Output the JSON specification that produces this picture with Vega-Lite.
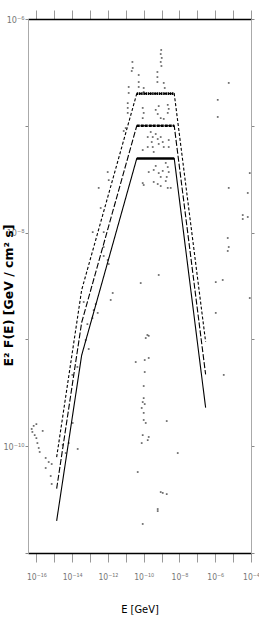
{
  "$schema": "https://vega.github.io/schema/vega-lite/v6.json",
  "width": 223,
  "height": 534,
  "autosize": {"type": "none"},
  "padding": {"left": 28, "top": 19, "right": 8, "bottom": 69},
  "config": {
    "view": {"stroke": null},
    "axis": {"labelFont": "Liberation Sans Narrow, DejaVu Sans Condensed, Roboto, sans-serif", "grid": false}
  },
  "datasets": {
    "points": [
      {"E": 9.55e-10, "F": 5.13e-7}, {"E": 8.95e-10, "F": 4.70e-7}, {"E": 1.02e-9, "F": 4.32e-7}, {"E": 8.95e-10, "F": 3.96e-7},
      {"E": 9.80e-10, "F": 3.63e-7}, {"E": 2.34e-11, "F": 3.96e-7}, {"E": 2.43e-11, "F": 3.48e-7}, {"E": 2.14e-11, "F": 3.26e-7},
      {"E": 5.85e-10, "F": 3.19e-7}, {"E": 5.85e-10, "F": 2.86e-7}, {"E": 5.85e-10, "F": 2.57e-7}, {"E": 5.26e-11, "F": 2.99e-7},
      {"E": 5.26e-11, "F": 2.57e-7}, {"E": 5.26e-11, "F": 2.31e-7}, {"E": 1.32e-9, "F": 2.52e-7}, {"E": 1.50e-9, "F": 2.26e-7},
      {"E": 1.45e-11, "F": 2.31e-7}, {"E": 1.45e-11, "F": 2.03e-7}, {"E": 1.0e-10, "F": 2.26e-7}, {"E": 1.0e-10, "F": 2.07e-7},
      {"E": 1.28e-11, "F": 1.63e-7}, {"E": 1.28e-11, "F": 1.47e-7}, {"E": 1.28e-11, "F": 1.32e-7}, {"E": 8.81e-11, "F": 1.47e-7},
      {"E": 1.0e-10, "F": 1.32e-7}, {"E": 8.81e-11, "F": 1.18e-7}, {"E": 4.70e-10, "F": 1.41e-7}, {"E": 6.92e-10, "F": 1.53e-7},
      {"E": 6.08e-10, "F": 1.29e-7}, {"E": 2.21e-9, "F": 1.57e-7}, {"E": 2.51e-9, "F": 1.44e-7}, {"E": 2.21e-9, "F": 1.32e-7},
      {"E": 8.95e-10, "F": 1.18e-7}, {"E": 1.32e-9, "F": 1.16e-7}, {"E": 9.86e-12, "F": 9.53e-8}, {"E": 7.62e-12, "F": 8.94e-8},
      {"E": 2.47e-10, "F": 8.75e-8}, {"E": 3.20e-10, "F": 7.85e-8}, {"E": 2.81e-10, "F": 7.05e-8}, {"E": 3.20e-10, "F": 6.33e-8},
      {"E": 4.70e-10, "F": 8.38e-8}, {"E": 6.08e-10, "F": 7.52e-8}, {"E": 6.92e-10, "F": 6.76e-8}, {"E": 8.95e-10, "F": 7.85e-8},
      {"E": 1.16e-9, "F": 7.05e-8}, {"E": 1.32e-9, "F": 6.33e-8}, {"E": 2.51e-9, "F": 7.36e-8}, {"E": 2.51e-9, "F": 6.33e-8},
      {"E": 1.68e-10, "F": 7.85e-8}, {"E": 1.68e-10, "F": 6.33e-8}, {"E": 3.63e-10, "F": 5.69e-8}, {"E": 8.81e-11, "F": 5.93e-8},
      {"E": 3.63e-10, "F": 3.86e-8}, {"E": 4.70e-10, "F": 4.21e-8}, {"E": 6.92e-10, "F": 3.61e-8}, {"E": 8.95e-10, "F": 3.32e-8},
      {"E": 1.16e-9, "F": 3.78e-8}, {"E": 1.71e-9, "F": 4.49e-8}, {"E": 2.21e-9, "F": 4.11e-8}, {"E": 2.51e-9, "F": 3.69e-8},
      {"E": 1.94e-9, "F": 3.32e-8}, {"E": 1.71e-9, "F": 3.04e-8}, {"E": 8.81e-11, "F": 2.91e-8}, {"E": 3.63e-10, "F": 2.98e-8},
      {"E": 6.08e-10, "F": 2.85e-8}, {"E": 8.95e-10, "F": 2.73e-8}, {"E": 2.21e-9, "F": 2.62e-8}, {"E": 1.91e-10, "F": 3.69e-8},
      {"E": 3.24e-9, "F": 2.62e-8}, {"E": 1.0e-10, "F": 2.79e-8}, {"E": 9.72e-13, "F": 3.69e-8}, {"E": 1.11e-12, "F": 3.10e-8},
      {"E": 3.05e-13, "F": 2.62e-8}, {"E": 3.94e-13, "F": 1.70e-8}, {"E": 1.41e-13, "F": 1.01e-8}, {"E": 5.81e-13, "F": 1.01e-8},
      {"E": 5.81e-13, "F": 7.33e-9}, {"E": 5.81e-13, "F": 6.04e-9}, {"E": 9.72e-13, "F": 5.54e-9}, {"E": 1.11e-12, "F": 5.08e-9},
      {"E": 1.85e-12, "F": 2.72e-9}, {"E": 1.43e-12, "F": 2.34e-9}, {"E": 4.42e-14, "F": 2.24e-9}, {"E": 2.07e-13, "F": 2.14e-9},
      {"E": 1.60e-13, "F": 1.88e-9}, {"E": 2.68e-13, "F": 1.77e-9}, {"E": 1.36e-13, "F": 1.58e-9}, {"E": 7.11e-14, "F": 1.39e-9},
      {"E": 5.71e-14, "F": 9.87e-10}, {"E": 8.41e-14, "F": 8.13e-10}, {"E": 1.03e-14, "F": 4.65e-10}, {"E": 1.96e-14, "F": 5.52e-10},
      {"E": 1.07e-14, "F": 1.65e-10}, {"E": 2.04e-14, "F": 9.42e-11}, {"E": 6.40e-15, "F": 1.07e-10}, {"E": 2.96e-15, "F": 1.03e-10},
      {"E": 4.36e-15, "F": 8.63e-11}, {"E": 5.46e-17, "F": 1.45e-10}, {"E": 7.06e-17, "F": 1.55e-10}, {"E": 1.0e-16, "F": 1.61e-10},
      {"E": 5.97e-17, "F": 1.36e-10}, {"E": 8.04e-17, "F": 1.27e-10}, {"E": 1.0e-16, "F": 1.19e-10}, {"E": 1.14e-16, "F": 1.07e-10},
      {"E": 1.35e-16, "F": 9.62e-11}, {"E": 1.53e-16, "F": 8.83e-11}, {"E": 2.25e-16, "F": 1.39e-10}, {"E": 3.31e-16, "F": 7.76e-11},
      {"E": 4.88e-16, "F": 7.11e-11}, {"E": 7.18e-16, "F": 6.81e-11}, {"E": 3.31e-16, "F": 6.25e-11}, {"E": 6.31e-16, "F": 5.26e-11},
      {"E": 7.18e-16, "F": 4.43e-11}, {"E": 1.61e-10, "F": 1.10e-9}, {"E": 1.30e-10, "F": 1.03e-9}, {"E": 1.91e-10, "F": 1.08e-9},
      {"E": 3.58e-11, "F": 6.14e-10}, {"E": 1.14e-10, "F": 6.41e-10}, {"E": 1.91e-10, "F": 6.70e-10}, {"E": 1.14e-10, "F": 4.95e-10},
      {"E": 1.0e-10, "F": 3.66e-10}, {"E": 1.0e-10, "F": 2.82e-10}, {"E": 8.81e-11, "F": 2.59e-10}, {"E": 1.14e-10, "F": 2.48e-10},
      {"E": 7.74e-11, "F": 2.28e-10}, {"E": 1.0e-10, "F": 2.05e-10}, {"E": 1.0e-10, "F": 1.76e-10}, {"E": 1.30e-10, "F": 1.65e-10},
      {"E": 8.81e-11, "F": 1.27e-10}, {"E": 7.74e-11, "F": 1.07e-10}, {"E": 1.68e-10, "F": 1.14e-10}, {"E": 1.91e-10, "F": 1.22e-10},
      {"E": 1.94e-9, "F": 1.72e-10}, {"E": 8.00e-9, "F": 8.63e-11}, {"E": 4.63e-11, "F": 5.73e-11}, {"E": 8.95e-10, "F": 3.72e-11},
      {"E": 1.16e-9, "F": 3.65e-11}, {"E": 1.94e-9, "F": 3.56e-11}, {"E": 6.08e-10, "F": 2.58e-11}, {"E": 6.08e-10, "F": 2.47e-11},
      {"E": 8.81e-11, "F": 1.87e-11}, {"E": 6.92e-10, "F": 4.01e-9}, {"E": 6.81e-11, "F": 3.37e-9}, {"E": 5.69e-6, "F": 2.52e-7},
      {"E": 1.38e-6, "F": 1.75e-7}, {"E": 1.38e-6, "F": 1.21e-7}, {"E": 8.51e-5, "F": 3.61e-8}, {"E": 6.58e-5, "F": 2.35e-8},
      {"E": 5.69e-6, "F": 2.62e-8}, {"E": 3.45e-5, "F": 1.46e-8}, {"E": 3.45e-5, "F": 1.34e-8}, {"E": 6.58e-5, "F": 1.40e-8},
      {"E": 5.00e-6, "F": 8.90e-9}, {"E": 5.69e-6, "F": 7.33e-9}, {"E": 5.00e-6, "F": 6.73e-9}, {"E": 2.62e-6, "F": 3.60e-9},
      {"E": 1.07e-6, "F": 3.44e-9}, {"E": 8.51e-5, "F": 2.44e-9}, {"E": 1.07e-6, "F": 1.77e-9}, {"E": 2.99e-6, "F": 4.65e-10}
    ],
    "model": [
      {"series": "low", "i": 1, "E": 1.36e-15, "F": 2.0e-11, "peak": false},
      {"series": "low", "i": 2, "E": 3.4e-14, "F": 7.1e-10, "peak": false},
      {"series": "low", "i": 3, "E": 4.1e-11, "F": 4.94e-8, "peak": true},
      {"series": "low", "i": 4, "E": 5.1e-9, "F": 4.94e-8, "peak": true},
      {"series": "low", "i": 5, "E": 2.9e-7, "F": 2.3e-10, "peak": false},
      {"series": "mid", "i": 1, "E": 1.36e-15, "F": 4.0e-11, "peak": false},
      {"series": "mid", "i": 2, "E": 3.4e-14, "F": 1.44e-9, "peak": false},
      {"series": "mid", "i": 3, "E": 4.1e-11, "F": 1.0e-7, "peak": true},
      {"series": "mid", "i": 4, "E": 5.1e-9, "F": 1.0e-7, "peak": true},
      {"series": "mid", "i": 5, "E": 2.9e-7, "F": 4.7e-10, "peak": false},
      {"series": "high", "i": 1, "E": 1.36e-15, "F": 7.9e-11, "peak": false},
      {"series": "high", "i": 2, "E": 3.4e-14, "F": 2.9e-9, "peak": false},
      {"series": "high", "i": 3, "E": 4.1e-11, "F": 2.0e-7, "peak": true},
      {"series": "high", "i": 4, "E": 5.1e-9, "F": 2.0e-7, "peak": true},
      {"series": "high", "i": 5, "E": 2.9e-7, "F": 9.5e-10, "peak": false}
    ]
  },
  "layer": [
    {
      "data": {"name": "points"},
      "mark": {"type": "point", "shape": "square", "filled": true, "size": 3, "color": "#444444", "opacity": 0.8},
      "encoding": {
        "x": {
          "field": "E", "type": "quantitative",
          "scale": {"type": "log", "domain": [3.4e-17, 1e-4], "nice": false},
          "axis": {
            "orient": "bottom",
            "values": [1e-16, 1e-15, 1e-14, 1e-13, 1e-12, 1e-11, 1e-10, 1e-9, 1e-8, 1e-7, 1e-6, 1e-5, 1e-4],
            "labelExpr": "{'-16':'10⁻¹⁶','-14':'10⁻¹⁴','-12':'10⁻¹²','-10':'10⁻¹⁰','-8':'10⁻⁸','-6':'10⁻⁶','-4':'10⁻⁴'}['' + round(log(datum.value) / LN10)] || ''",
            "labelFontSize": 8.5, "labelColor": "#777777", "labelPadding": 10, "labelOverlap": false, "labelFlush": false,
            "domainColor": "#000000", "domainWidth": 1.6,
            "tickColor": "#999999", "tickSize": 9, "tickWidth": 1,
            "title": "E [GeV]", "titleFont": "Liberation Sans Narrow, DejaVu Sans Condensed, Roboto, sans-serif",
            "titleFontSize": 11, "titleFontWeight": "normal", "titleColor": "#000000", "titlePadding": 23
          }
        },
        "y": {
          "field": "F", "type": "quantitative",
          "scale": {"type": "log", "domain": [1e-11, 1e-6], "nice": false},
          "axis": {
            "orient": "left",
            "values": [1e-11, 1e-10, 1e-9, 1e-8, 1e-7, 1e-6],
            "labelExpr": "{'-6':'10⁻⁶','-8':'10⁻⁸','-10':'10⁻¹⁰'}['' + round(log(datum.value) / LN10)] || ''",
            "labelFontSize": 9, "labelColor": "#777777", "labelPadding": 1, "labelOverlap": false, "labelFlush": false,
            "domainColor": "#aaaaaa", "domainWidth": 1,
            "tickColor": "#888888", "tickSize": 3,
            "title": "E² F(E) [GeV / cm² s]", "titleFont": "DejaVu Sans",
            "titleFontSize": 12.5, "titleFontWeight": "bold", "titleColor": "#000000",
            "titleX": -20, "titleY": 276, "titleAngle": -90, "titleAlign": "center", "titleBaseline": "middle"
          }
        }
      }
    },
    {
      "data": {"name": "model"},
      "mark": {"type": "line", "color": "#000000", "strokeWidth": 1.1},
      "encoding": {
        "x": {
          "field": "E", "type": "quantitative",
          "scale": {"type": "log", "domain": [3.4e-17, 1e-4], "nice": false},
          "axis": {
            "orient": "top",
            "values": [1e-16, 1e-15, 1e-14, 1e-13, 1e-12, 1e-11, 1e-10, 1e-9, 1e-8, 1e-7, 1e-6, 1e-5, 1e-4],
            "labels": false, "title": null,
            "domainColor": "#000000", "domainWidth": 1.6,
            "tickColor": "#999999", "tickSize": 9
          }
        },
        "y": {
          "field": "F", "type": "quantitative",
          "scale": {"type": "log", "domain": [1e-11, 1e-6], "nice": false},
          "axis": {
            "orient": "right",
            "values": [1e-11, 1e-10, 1e-9, 1e-8, 1e-7, 1e-6],
            "labels": false, "title": null,
            "domainColor": "#aaaaaa", "domainWidth": 1,
            "tickColor": "#888888", "tickSize": 3
          }
        },
        "detail": {"field": "series", "type": "nominal"},
        "order": {"field": "i", "type": "quantitative"},
        "strokeDash": {
          "field": "series", "type": "nominal",
          "scale": {"domain": ["high", "mid", "low"], "range": [[3, 2], [6, 2], [1, 0]]},
          "legend": null
        }
      }
    },
    {
      "data": {"name": "model"},
      "transform": [{"filter": "datum.peak"}],
      "mark": {"type": "line", "color": "#000000", "strokeWidth": 2.6},
      "encoding": {
        "x": {"field": "E", "type": "quantitative", "scale": {"type": "log", "domain": [3.4e-17, 1e-4], "nice": false}, "axis": null},
        "y": {"field": "F", "type": "quantitative", "scale": {"type": "log", "domain": [1e-11, 1e-6], "nice": false}, "axis": null},
        "detail": {"field": "series", "type": "nominal"},
        "order": {"field": "i", "type": "quantitative"},
        "strokeDash": {
          "field": "series", "type": "nominal",
          "scale": {"domain": ["high", "mid", "low"], "range": [[1.5, 0.7], [3, 1], [1, 0]]},
          "legend": null
        }
      }
    }
  ],
  "resolve": {"axis": {"x": "independent", "y": "independent"}, "scale": {"strokeDash": "independent"}}
}
